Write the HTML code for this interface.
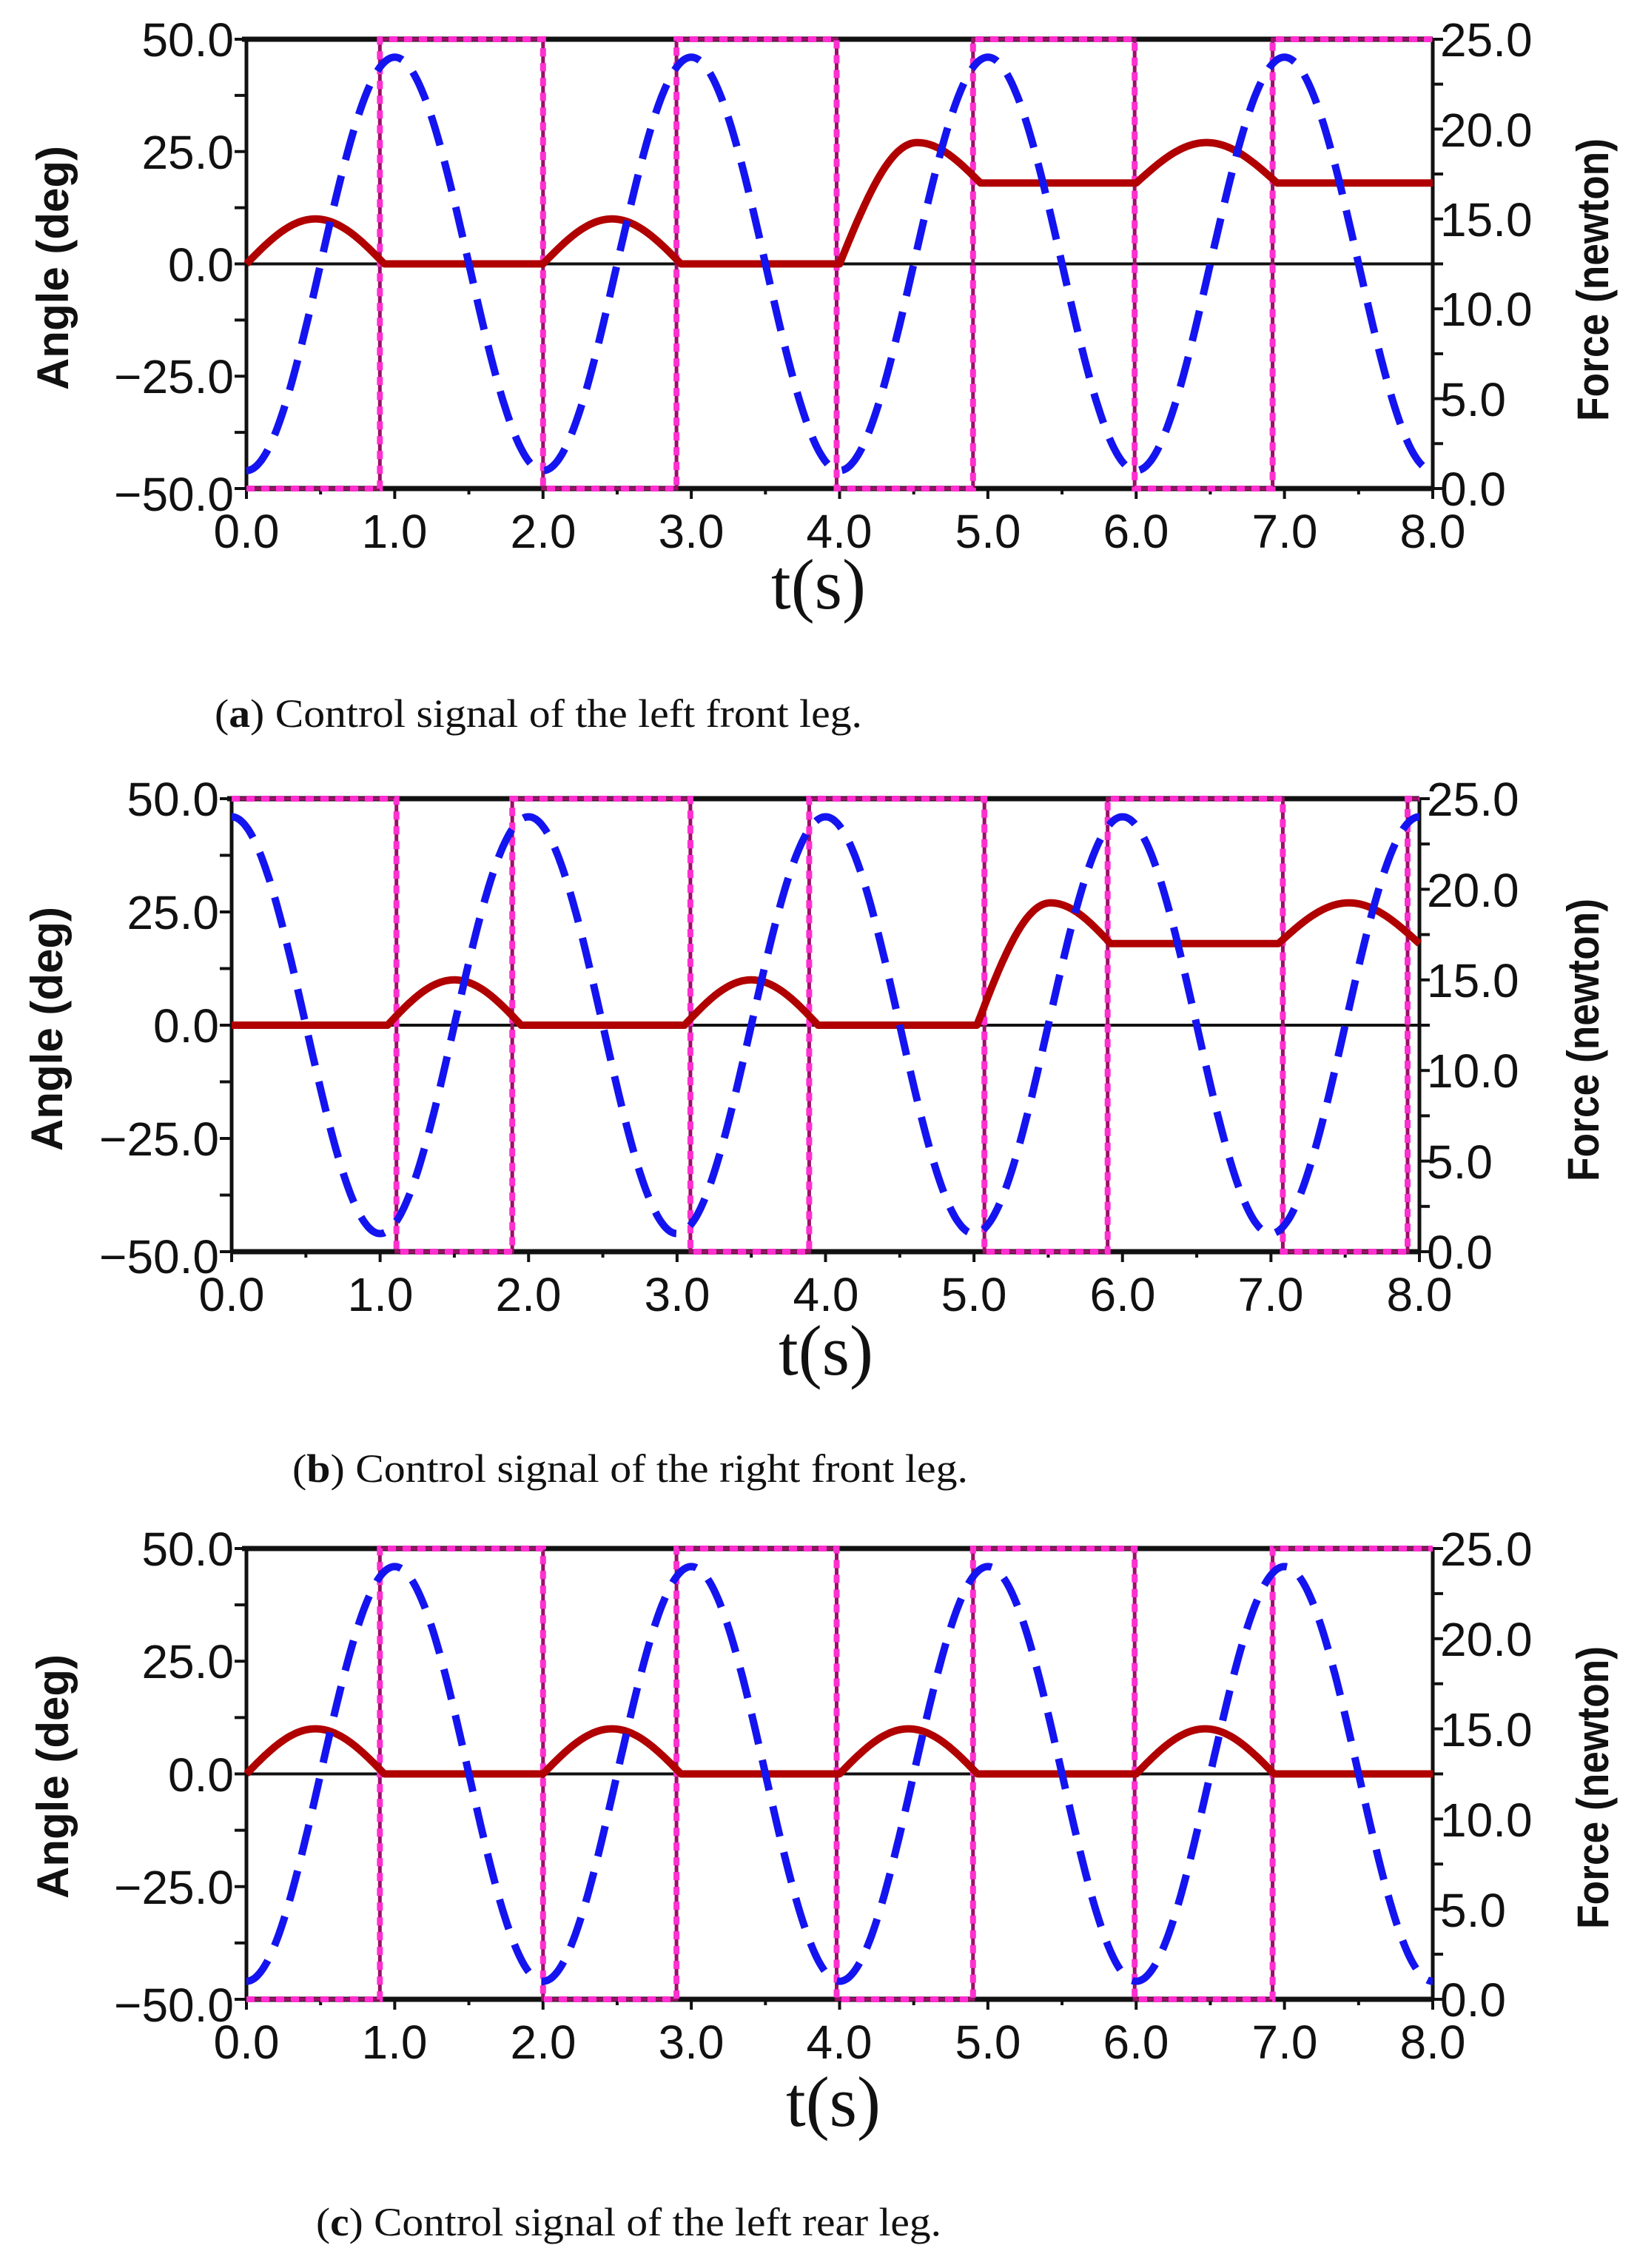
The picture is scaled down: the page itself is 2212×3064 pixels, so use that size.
<!DOCTYPE html>
<html><head><meta charset="utf-8"><style>
html,body{margin:0;padding:0;background:#fff;}
svg{display:block;}
.tl{font-family:"Liberation Sans",Arial,sans-serif;font-size:64px;fill:#111;}
.ax{font-family:"Liberation Sans",Arial,sans-serif;font-size:60px;font-weight:bold;fill:#111;}
.ts{font-family:"Liberation Serif",serif;font-size:96px;fill:#111;}
.cap{font-family:"Liberation Serif",serif;font-size:54px;fill:#111;}
</style></head><body>
<svg id="s" xmlns="http://www.w3.org/2000/svg" width="2212" height="3064" viewBox="0 0 2212 3064">
<rect width="2212" height="3064" fill="#fff"/>
<g id="plots"></g>
<!-- Panel a text -->
<g class="tl" text-anchor="end">
<text x="316" y="76">50.0</text><text x="316" y="228">25.0</text><text x="316" y="380">0.0</text><text x="316" y="531">−25.0</text><text x="316" y="690">−50.0</text>
</g>
<g class="tl" text-anchor="start">
<text x="1946" y="76">25.0</text><text x="1946" y="198">20.0</text><text x="1946" y="319">15.0</text><text x="1946" y="440">10.0</text><text x="1946" y="562">5.0</text><text x="1946" y="683">0.0</text>
</g>
<g class="tl" text-anchor="middle">
<text x="333" y="740">0.0</text><text x="533" y="740">1.0</text><text x="734" y="740">2.0</text><text x="934" y="740">3.0</text><text x="1134" y="740">4.0</text><text x="1335" y="740">5.0</text><text x="1535" y="740">6.0</text><text x="1736" y="740">7.0</text><text x="1936" y="740">8.0</text>
</g>
<text class="ts" x="1106" y="822" text-anchor="middle">t(s)</text>
<text class="ax" transform="translate(92,362) rotate(-90)" text-anchor="middle">Angle (deg)</text>
<text class="ax" transform="translate(2173,378) rotate(-90)" text-anchor="middle" textLength="382" lengthAdjust="spacingAndGlyphs">Force (newton)</text>
<text class="cap" x="290" y="982" textLength="875" lengthAdjust="spacingAndGlyphs">(<tspan font-weight="bold">a</tspan>) Control signal of the left front leg.</text>

<!-- Panel b text -->
<g class="tl" text-anchor="end">
<text x="296" y="1102">50.0</text><text x="296" y="1255">25.0</text><text x="296" y="1408">0.0</text><text x="296" y="1561">−25.0</text><text x="296" y="1720">−50.0</text>
</g>
<g class="tl" text-anchor="start">
<text x="1928" y="1102">25.0</text><text x="1928" y="1225">20.0</text><text x="1928" y="1347">15.0</text><text x="1928" y="1469">10.0</text><text x="1928" y="1592">5.0</text><text x="1928" y="1714">0.0</text>
</g>
<g class="tl" text-anchor="middle">
<text x="313" y="1771">0.0</text><text x="514" y="1771">1.0</text><text x="714" y="1771">2.0</text><text x="915" y="1771">3.0</text><text x="1116" y="1771">4.0</text><text x="1316" y="1771">5.0</text><text x="1517" y="1771">6.0</text><text x="1717" y="1771">7.0</text><text x="1918" y="1771">8.0</text>
</g>
<text class="ts" x="1116" y="1857" text-anchor="middle">t(s)</text>
<text class="ax" transform="translate(84,1390) rotate(-90)" text-anchor="middle">Angle (deg)</text>
<text class="ax" transform="translate(2160,1405) rotate(-90)" text-anchor="middle" textLength="382" lengthAdjust="spacingAndGlyphs">Force (newton)</text>
<text class="cap" x="395" y="2002" textLength="913" lengthAdjust="spacingAndGlyphs">(<tspan font-weight="bold">b</tspan>) Control signal of the right front leg.</text>

<!-- Panel c text -->
<g class="tl" text-anchor="end">
<text x="316" y="2115">50.0</text><text x="316" y="2267">25.0</text><text x="316" y="2420">0.0</text><text x="316" y="2572">−25.0</text><text x="316" y="2731">−50.0</text>
</g>
<g class="tl" text-anchor="start">
<text x="1946" y="2115">25.0</text><text x="1946" y="2237">20.0</text><text x="1946" y="2359">15.0</text><text x="1946" y="2481">10.0</text><text x="1946" y="2603">5.0</text><text x="1946" y="2724">0.0</text>
</g>
<g class="tl" text-anchor="middle">
<text x="333" y="2781">0.0</text><text x="533" y="2781">1.0</text><text x="734" y="2781">2.0</text><text x="934" y="2781">3.0</text><text x="1134" y="2781">4.0</text><text x="1335" y="2781">5.0</text><text x="1535" y="2781">6.0</text><text x="1736" y="2781">7.0</text><text x="1936" y="2781">8.0</text>
</g>
<text class="ts" x="1126" y="2872" text-anchor="middle">t(s)</text>
<text class="ax" transform="translate(92,2400) rotate(-90)" text-anchor="middle">Angle (deg)</text>
<text class="ax" transform="translate(2173,2415) rotate(-90)" text-anchor="middle" textLength="382" lengthAdjust="spacingAndGlyphs">Force (newton)</text>
<text class="cap" x="427" y="3020" textLength="845" lengthAdjust="spacingAndGlyphs">(<tspan font-weight="bold">c</tspan>) Control signal of the left rear leg.</text>
</svg>
<script>
(function(){
var NS="http://www.w3.org/2000/svg",G=document.getElementById("plots");
function el(n,a){var e=document.createElementNS(NS,n);for(var k in a)e.setAttribute(k,a[k]);G.appendChild(e);return e;}
function bump(s,a,b,pk){
  if(a===b) return a+(pk-a)*Math.sin(Math.PI*s);
  var sp=0.55;
  if(s<sp) return a+(pk-a)*Math.sin(Math.PI/2*s/sp);
  return b+(pk-b)*Math.cos(Math.PI/2*(s-sp)/(1-sp));
}
function panel(L,R,T,B,blueSign,segs,sw){
  var Z=(T+B)/2,X=function(t){return L+t*(R-L)/8;},Y=function(d){return Z-d*(B-T)/100;};
  for(var i=0;i<=8;i++){var y=T+i*(B-T)/8;el("line",{x1:L-16,y1:y,x2:L,y2:y,stroke:"#111","stroke-width":4});}
  for(var i=0;i<=10;i++){var y=T+i*(B-T)/10;el("line",{x1:R,y1:y,x2:R+14,y2:y,stroke:"#111","stroke-width":4});}
  for(var i=0;i<=16;i++){var x=L+i*(R-L)/16;el("line",{x1:x,y1:B,x2:x,y2:B+(i%2?8:14),stroke:"#111","stroke-width":4});}
  el("line",{x1:L-6,y1:T,x2:R,y2:T,stroke:"#111","stroke-width":7});
  el("line",{x1:L,y1:B,x2:R,y2:B,stroke:"#111","stroke-width":7});
  el("line",{x1:L,y1:T,x2:L,y2:B,stroke:"#111","stroke-width":5});
  el("line",{x1:R,y1:T,x2:R,y2:B,stroke:"#111","stroke-width":5});
  el("line",{x1:L,y1:Z,x2:R,y2:Z,stroke:"#111","stroke-width":4});
  var pts=[],cur=segs.start;
  pts.push([X(0),cur?T:B]);
  sw.forEach(function(t){pts.push([X(t),cur?T:B]);cur=!cur;pts.push([X(t),cur?T:B]);});
  pts.push([X(8),cur?T:B]);
  var ps=pts.map(function(p){return p[0].toFixed(1)+","+p[1].toFixed(1);}).join(" ");
  el("polyline",{points:ps,fill:"none",stroke:"#9a1066","stroke-width":5});
  el("polyline",{points:ps,fill:"none",stroke:"#ff30d0","stroke-width":8,"stroke-dasharray":"11 9"});
  var d="";
  for(var k=0;k<=1600;k++){var t=k/200,v=0;
    for(var j=0;j<segs.red.length;j++){var r=segs.red[j];if(t>=r[0]&&t<=r[1]){
      if(r[2]==="f") v=r[3]; else v=bump((t-r[0])/(r[1]-r[0]),r[3],r[4],r[5]); break;}}
    d+=(k?"L":"M")+X(t).toFixed(1)+" "+Y(v).toFixed(1);}
  el("path",{d:d,fill:"none",stroke:"#b00000","stroke-width":10,"stroke-linejoin":"round"});
  d="";
  for(var k=0;k<=800;k++){var t=k/100,v=blueSign*46*Math.cos(Math.PI*t);d+=(k?"L":"M")+X(t).toFixed(1)+" "+Y(v).toFixed(1);}
  el("path",{d:d,fill:"none",stroke:"#1414f0","stroke-width":10,"stroke-dasharray":"42 22"});
}
var swA=[0.9,2.0,2.9,3.98,4.9,5.99,6.92];
panel(333,1936,53,660,-1,{start:false,red:[
 [0,0.93,"b",0,0,10],[0.93,2,"f",0],[2,2.93,"b",0,0,10],[2.93,4,"f",0],
 [4,4.95,"b",0,18,27],[4.95,6,"f",18],[6,6.95,"b",18,18,27],[6.95,8,"f",18]]},swA);
panel(313,1918,1079,1691,1,{start:true,red:[
 [0,1.05,"f",0],[1.05,1.95,"b",0,0,10],[1.95,3.05,"f",0],[3.05,3.95,"b",0,0,10],[3.95,5.02,"f",0],
 [5.02,5.92,"b",0,18,27],[5.92,7.05,"f",18],[7.05,8.0,"b",18,18,27]]},[1.11,1.89,3.09,3.89,5.07,5.9,7.08,7.92]);
panel(333,1936,2092,2701,-1,{start:false,red:[
 [0,0.93,"b",0,0,10],[0.93,2,"f",0],[2,2.93,"b",0,0,10],[2.93,4,"f",0],
 [4,4.93,"b",0,0,10],[4.93,6,"f",0],[6,6.93,"b",0,0,10],[6.93,8,"f",0]]},swA);
})();
</script>
</body></html>
